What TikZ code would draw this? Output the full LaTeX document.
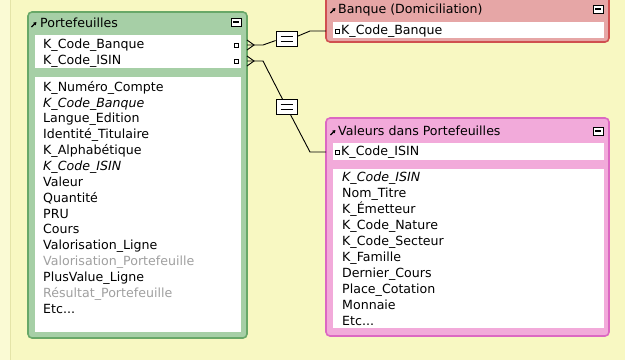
\documentclass[tikz,border=0pt]{standalone}
\usepackage{fontspec}
\setmainfont{DejaVu Sans}
\usetikzlibrary{arrows.meta}

\definecolor{bgyellow}{HTML}{F8F8C2}
\definecolor{bgleft}{HTML}{FAFAD4}
\definecolor{bgline}{HTML}{E4E4A8}
\definecolor{pfgreen}{HTML}{A6CFA6}
\definecolor{pfedge}{HTML}{68A868}
\definecolor{bkred}{HTML}{E6A6A6}
\definecolor{bkedge}{HTML}{D05050}
\definecolor{vppink}{HTML}{F2AADA}
\definecolor{vpedge}{HTML}{DC68C2}
\definecolor{fieldgray}{HTML}{A0A0A0}

\tikzset{
  field/.style={anchor=west, inner sep=0pt, text height=9pt, text depth=2.5pt,
    font=\fontsize{12.6}{14}\selectfont},
  grayfield/.style={field, text=fieldgray},
  eqbox/.style={draw, fill=white, line width=0.8pt, minimum width=21pt,
    minimum height=15pt, inner sep=0pt,
    path picture={
      \draw[line width=1.3pt] ([xshift=-6pt,yshift=-2.2pt]path picture bounding box.center) -- ++(12pt,0);
      \draw[line width=1.3pt] ([xshift=-6pt,yshift=2.2pt]path picture bounding box.center) -- ++(12pt,0);
    }},
  link/.style={line width=0.9pt},
  keymark/.style={draw, fill=white, line width=0.9pt, minimum size=4pt, inner sep=0pt},
  tabicon/.style={line width=1.1pt, -{Triangle[length=3pt,width=3.5pt]}},
  minbutton/.style={draw, fill=white, line width=1pt, minimum width=10pt,
    minimum height=8pt, inner sep=0pt,
    path picture={\draw[line width=1.6pt] ([xshift=-3pt]path picture bounding box.center) -- ++(6pt,0);}},
}

\begin{document}
\begin{tikzpicture}[x=1pt,y=-1pt]
        \useasboundingbox (0,0) rectangle (625,360);

        % Draw the background
        \fill[bgyellow] (0,0) rectangle (625,360);
        \fill[bgleft] (0,0) rectangle (10,360);
        \draw[bgline, line width=1pt] (10,0) -- (10,360);

        % Portefeuilles table
        \draw[pfedge, fill=pfgreen, line width=1.6pt, rounded corners=4pt] (28,12) rectangle (247,338);
        \fill[white] (35,35) rectangle (241,68);
        \fill[white] (35,77) rectangle (241,332);
        \draw[tabicon] (31.5,27) -- (36.5,22);
        \node[field] (pf-title) at (40,24) {Portefeuilles};
        \node[minbutton] (pf-button) at (236,22) {};
        \node[field] (pf-key1) at (43,45) {K\_Code\_Banque};
        \node[field] (pf-key2) at (43,61) {K\_Code\_ISIN};
        \node[keymark] (pf-mark1) at (236,45) {};
        \node[keymark] (pf-mark2) at (236,61) {};
        \foreach \txt [count=\i from 0] in {K\_Numéro\_Compte, {\itshape K\_Code\_Banque},
            Langue\_Edition, Identité\_Titulaire, K\_Alphabétique, {\itshape K\_Code\_ISIN},
            Valeur, Quantité, PRU, Cours, Valorisation\_Ligne}
          \node[field] (pf-field\i) at (43,88+15.85*\i) {\txt};
        \node[grayfield] (pf-field11) at (43,262.4) {Valorisation\_Portefeuille};
        \node[field] (pf-field12) at (43,278.2) {PlusValue\_Ligne};
        \node[grayfield] (pf-field13) at (43,294.1) {Résultat\_Portefeuille};
        \node[field] (pf-field14) at (43,309.9) {Etc...};

        % Banque (Domiciliation) table
        \draw[bkedge, fill=bkred, line width=1.6pt, rounded corners=4pt] (326,-6) rectangle (609,42);
        \fill[white] (333,22) rectangle (604,38);
        \draw[tabicon] (330.5,13) -- (335.5,8);
        \node[field] (bk-title) at (338,10) {Banque (Domiciliation)};
        \node[minbutton] (bk-button) at (598,9) {};
        \node[keymark] (bk-mark) at (337.5,31) {};
        \node[field] (bk-key) at (341,31) {K\_Code\_Banque};

        % Valeurs dans Portefeuilles table
        \draw[vpedge, fill=vppink, line width=1.6pt, rounded corners=4pt] (326,118) rectangle (609,336);
        \fill[white] (333,143) rectangle (604,160);
        \fill[white] (333,169) rectangle (604,328);
        \draw[tabicon] (330.5,135) -- (335.5,130);
        \node[field] (vp-title) at (338,132) {Valeurs dans Portefeuilles};
        \node[minbutton] (vp-button) at (598,131) {};
        \node[keymark] (vp-mark) at (337.5,152) {};
        \node[field] (vp-key) at (341,152) {K\_Code\_ISIN};
        \foreach \txt [count=\i from 0] in {{\itshape K\_Code\_ISIN}, Nom\_Titre, K\_Émetteur,
            K\_Code\_Nature, K\_Code\_Secteur, K\_Famille, Dernier\_Cours, Place\_Cotation,
            Monnaie}
          \node[field] (vp-field\i) at (342,178+16*\i) {\txt};
        \node[field] (vp-field9) at (342,322) {Etc...};

        % Relation boxes
        \node[eqbox] (eq-bank) at (286.5,39) {};
        \node[eqbox] (eq-isin) at (286.5,107) {};

        % Link ends
        \coordinate (pf-bank) at (247,45);
        \coordinate (pf-bank-end) at (263,45);
        \coordinate (bk-bend) at (310,31);
        \coordinate (bk-link) at (326,31);
        \coordinate (pf-isin) at (247,61);
        \coordinate (pf-isin-end) at (263,61);
        \coordinate (vp-bend) at (310,152);
        \coordinate (vp-link) at (326,152);

        % Draw the links
        \draw[link] ([yshift=-5pt]pf-bank) -- ([xshift=7pt]pf-bank) -- ([yshift=5pt]pf-bank);
        \draw[link] (pf-bank) -- (pf-bank-end) -- (eq-bank.188);
        \draw[link] (eq-bank.14) -- (bk-bend) -- (bk-link);
        \draw[link] ([yshift=-5pt]pf-isin) -- ([xshift=7pt]pf-isin) -- ([yshift=5pt]pf-isin);
        \draw[link] (pf-isin) -- (pf-isin-end) -- (eq-isin);
        \draw[link] (eq-isin) -- (vp-bend) -- (vp-link);

        \end{tikzpicture}
\end{document}
